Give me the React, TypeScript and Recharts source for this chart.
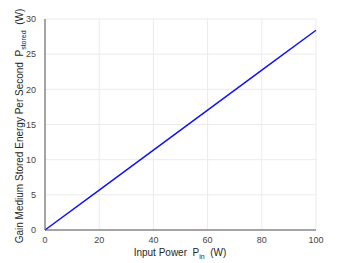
import { LineChart, Line, XAxis, YAxis, CartesianGrid } from 'recharts';

const inputPower = [0, 20, 40, 60, 80, 100];
const storedPower = [0, 5.68, 11.36, 17.04, 22.72, 28.4];
const xTicks = [0, 20, 40, 60, 80, 100];
const yTicks = [0, 5, 10, 15, 20, 25, 30];

const data = inputPower.map((p, i) => ({ pin: p, pstored: storedPower[i] }));

const font = 'Liberation Sans, Arial, Helvetica, sans-serif';

function YLabel() {
  return (
    <text
      transform="translate(23,126) rotate(-90)"
      textAnchor="middle"
      fontFamily={font}
      fontSize={10}
      fill="#262626"
      style={{ whiteSpace: 'pre' }}
    >
      <tspan>Gain Medium Stored Energy Per Second  P</tspan>
      <tspan fontSize={7} dy={3}>stored</tspan>
      <tspan dy={-3}>  (W)</tspan>
    </text>
  );
}

function XLabel() {
  return (
    <text x={180} y={256} textAnchor="middle" fontFamily={font} fontSize={10} fill="#262626" style={{ whiteSpace: 'pre' }}>
      <tspan>Input Power  P</tspan>
      <tspan fontSize={7} dy={3}>in</tspan>
      <tspan dy={-3}>  (W)</tspan>
    </text>
  );
}

export default function App() {
  return (
    <div style={{ position: 'absolute', left: 0, top: 0, background: '#fff' }}>
      <LineChart
        width={350}
        height={263}
        data={data}
        margin={{ top: 19, right: 34, left: 0, bottom: 0 }}
      >
        <CartesianGrid stroke="#ebebeb" strokeWidth={1} />
        <XAxis
          dataKey="pin"
          type="number"
          domain={[0, 100]}
          ticks={xTicks}
          height={33}
          tickLine={false}
          stroke="#555"
          tick={{ fontSize: 9, fill: '#444', fontFamily: font }}
          tickMargin={1}
          interval={0}
        />
        <YAxis
          type="number"
          domain={[0, 30]}
          ticks={yTicks}
          width={45}
          tickLine={false}
          stroke="#555"
          tick={{ fontSize: 9, fill: '#444', fontFamily: font }}
          tickMargin={3}
          interval={0}
        />
        <Line
          type="linear"
          dataKey="pstored"
          stroke="#1010ff"
          strokeWidth={1.5}
          dot={false}
          isAnimationActive={false}
        />
        <YLabel />
        <XLabel />
      </LineChart>
    </div>
  );
}
